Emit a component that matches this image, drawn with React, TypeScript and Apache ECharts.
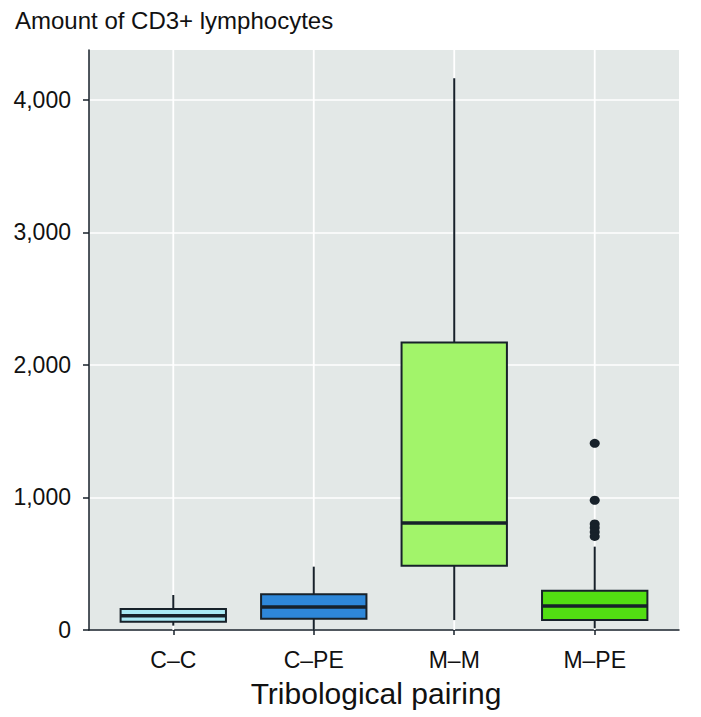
import React, { useEffect, useRef } from "react";
import * as echarts from "echarts";

const categories = ["C–C", "C–PE", "M–M", "M–PE"];
const whiskerLow = [33, 0, 75, 13];
const q1 = [63, 85, 485, 75];
const median = [108, 174, 808, 181];
const q3 = [158, 269, 2170, 297];
const whiskerHigh = [264, 478, 4164, 629];
const outlierGroup = [3, 3, 3, 3, 3, 3];
const outlierValues = [1409, 979, 800, 772, 740, 706];
const yTickLabels = [0, 1000, 2000, 3000, 4000];
const boxColors = ["#a9e9f4", "#2e87d9", "#a2f46a", "#52de12"];

const FONT = "'Liberation Sans', Arial, Helvetica, sans-serif";
const DARK = "#17212a";

export default function App() {
  const ref = useRef<HTMLDivElement>(null);
  useEffect(() => {
    if (!ref.current) return;
    const chart = echarts.init(ref.current, null, { renderer: "svg" });
    const yMax = 4377;
    const boxData = categories.map((_, i) => [i, whiskerLow[i], q1[i], median[i], q3[i], whiskerHigh[i]]);
    const outlierData = outlierValues.map((v, i) => [outlierGroup[i], v]);
    chart.setOption({
      animation: false,
      backgroundColor: "#ffffff",
      textStyle: { fontFamily: FONT },
      title: {
        text: "Amount of CD3+ lymphocytes",
        left: 10,
        top: 3,
        textStyle: { fontFamily: FONT, fontSize: 24, fontWeight: "normal", color: "#111" },
      },
      grid: {
        left: 89,
        right: 22,
        top: 50,
        bottom: 87,
        show: true,
        backgroundColor: "#e3e8e7",
        borderWidth: 0,
      },
      xAxis: {
        type: "value",
        min: -0.6,
        max: 3.6,
        name: "Tribological pairing",
        nameLocation: "middle",
        nameGap: 48,
        nameTextStyle: { fontFamily: FONT, fontSize: 30, color: "#111", padding: [0, 16, 0, 0] },
        axisLine: { show: true, onZero: false, lineStyle: { color: DARK, width: 1.5 } },
        axisTick: { show: true, length: 5, customValues: [0, 1, 2, 3], lineStyle: { color: DARK, width: 1.5 } },
        axisLabel: {
          customValues: [0, 1, 2, 3],
          margin: 18,
          fontFamily: FONT,
          fontSize: 23,
          color: "#111",
          formatter: (v: number) => (Math.abs(v - Math.round(v)) < 1e-6 ? categories[Math.round(v)] ?? "" : ""),
        },
        splitLine: { show: false },
      },
      yAxis: {
        type: "value",
        min: 0,
        max: yMax,
        interval: 500,
        axisLine: { show: true, onZero: false, lineStyle: { color: DARK, width: 1.5 } },
        axisTick: { show: true, length: 6, customValues: yTickLabels, lineStyle: { color: DARK, width: 1.5 } },
        axisLabel: {
          customValues: yTickLabels,
          margin: 18,
          fontFamily: FONT,
          fontSize: 23,
          color: "#111",
          formatter: (v: number) => (v % 1000 === 0 ? v.toLocaleString("en-US") : ""),
        },
        splitLine: { show: true, lineStyle: { color: "#ffffff", width: 1.6 } },
      },
      series: [
        {
          type: "custom",
          name: "vgrid",
          z: 1,
          silent: true,
          data: categories.map((_, i) => [i]),
          renderItem: (params: any, api: any) => {
            const cs = params.coordSys;
            const x = api.coord([api.value(0), 0])[0];
            return {
              type: "line",
              shape: { x1: x, y1: cs.y, x2: x, y2: cs.y + cs.height },
              style: { stroke: "#ffffff", lineWidth: 1.8 },
            };
          },
        },
        {
          type: "custom",
          name: "boxes",
          z: 2,
          data: boxData,
          renderItem: (params: any, api: any) => {
            const i = api.value(0);
            const half = api.size([0.75, 0])[0] / 2;
            const pLow = api.coord([i, api.value(1)]);
            const pQ1 = api.coord([i, api.value(2)]);
            const pMed = api.coord([i, api.value(3)]);
            const pQ3 = api.coord([i, api.value(4)]);
            const pHigh = api.coord([i, api.value(5)]);
            const cx = pQ1[0];
            const color = boxColors[params.dataIndex];
            return {
              type: "group",
              children: [
                {
                  type: "line",
                  shape: { x1: cx, y1: pHigh[1], x2: cx, y2: pQ3[1] },
                  style: { stroke: DARK, lineWidth: 2 },
                },
                {
                  type: "line",
                  shape: { x1: cx, y1: pQ1[1], x2: cx, y2: pLow[1] },
                  style: { stroke: DARK, lineWidth: 2 },
                },
                {
                  type: "rect",
                  shape: { x: cx - half, y: pQ3[1], width: half * 2, height: pQ1[1] - pQ3[1] },
                  style: { fill: color, stroke: DARK, lineWidth: 2 },
                },
                {
                  type: "line",
                  shape: { x1: cx - half, y1: pMed[1], x2: cx + half, y2: pMed[1] },
                  style: { stroke: DARK, lineWidth: 3.5 },
                },
              ],
            };
          },
        },
        {
          type: "scatter",
          name: "outliers",
          z: 3,
          data: outlierData,
          symbol: "circle",
          symbolSize: [10, 9],
          itemStyle: { color: DARK, opacity: 1 },
        },
      ],
    });
    return () => chart.dispose();
  }, []);
  return <div ref={ref} style={{ position: "fixed", left: 0, top: 0, width: 701, height: 717 }} />;
}
